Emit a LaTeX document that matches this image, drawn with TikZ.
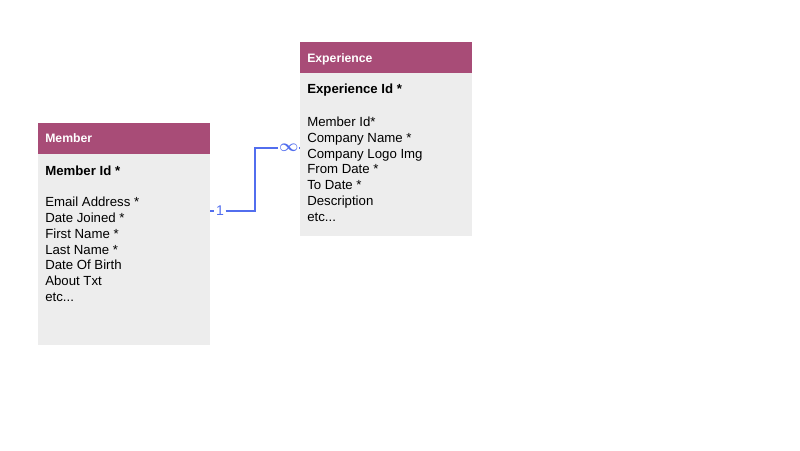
\documentclass[tikz,border=0pt]{standalone}
\usepackage{fontspec}
\setmainfont{Liberation Sans}
\definecolor{erdHead}{RGB}{168,76,119}
\definecolor{erdBody}{RGB}{237,237,237}
\definecolor{erdLink}{RGB}{82,110,238}
\usetikzlibrary{positioning,calc}
\newcommand{\etcfield}{etc...}

\begin{document}
\begin{tikzpicture}[
    headbox/.style={fill=erdHead,draw=none,minimum width=4.3cm,minimum height=0.775cm,inner sep=0pt},
    bodybox/.style={fill=erdBody,draw=none,minimum width=4.3cm,inner sep=0pt},
    headtxt/.style={anchor=base west,inner sep=0pt,text=white,font=\fontsize{8.7}{10}\selectfont\bfseries},
    keytxt/.style={anchor=base west,inner sep=0pt,font=\fontsize{9.4}{11}\selectfont\bfseries},
    fieldtxt/.style={anchor=base west,inner sep=0pt,font=\fontsize{9.4}{11}\selectfont},
    link/.style={erdLink,line width=0.9pt},
    card/.style={inner sep=1pt,text=erdLink,font=\fontsize{10}{10}\selectfont}
  ]
  \useasboundingbox (0,0) rectangle (20,11.25);
  % Member table
  \node[bodybox,minimum height=4.775cm] (memberbody) at (3.1,5.0125) {};
  \node[headbox] (memberhead) at (3.1,7.7875) {};
  \node[headtxt] (membertitle) at (1.125,7.675) {Member};
  \node[keytxt] (memberkey) at (1.125,6.86) {Member Id *};
  \foreach \f [count=\i] in {Email Address *,Date Joined *,First Name *,Last Name *,Date Of Birth,About Txt,\etcfield}
    \node[fieldtxt] (mf\i) at (1.125,{6.085-0.395*(\i-1)}) {\f};
  % Experience table
  \node[bodybox,minimum height=4.075cm] (expbody) at (9.65,7.3875) {};
  \node[headbox] (exphead) at (9.65,9.8125) {};
  \node[headtxt] (exptitle) at (7.675,9.675) {Experience};
  \node[keytxt] (expkey) at (7.675,8.9) {Experience Id *};
  \foreach \f [count=\i] in {Member Id*,Company Name *,Company Logo Img,From Date *,To Date *,Description,\etcfield}
    \node[fieldtxt] (ef\i) at (7.675,{8.085-0.395*(\i-1)}) {\f};
  % one-to-many link
  \coordinate (mj) at (memberbody.east |- 0,5.975);
  \coordinate (ej) at (expbody.west |- 0,7.55);
  \node[card] (one) at (5.5,5.975) {1};
  \node[card,inner sep=0.5pt,font=\fontsize{12}{12}\selectfont\boldmath] (many) at (7.22,7.55) {$\infty$};
  \coordinate (bend) at (6.375,5.975);
  \draw[link] (mj) -- (one.west);
  \draw[link] (one.east) -- (bend) |- (many.west);
  \draw[link] (many.east) -- (ej);
\end{tikzpicture}
\end{document}
